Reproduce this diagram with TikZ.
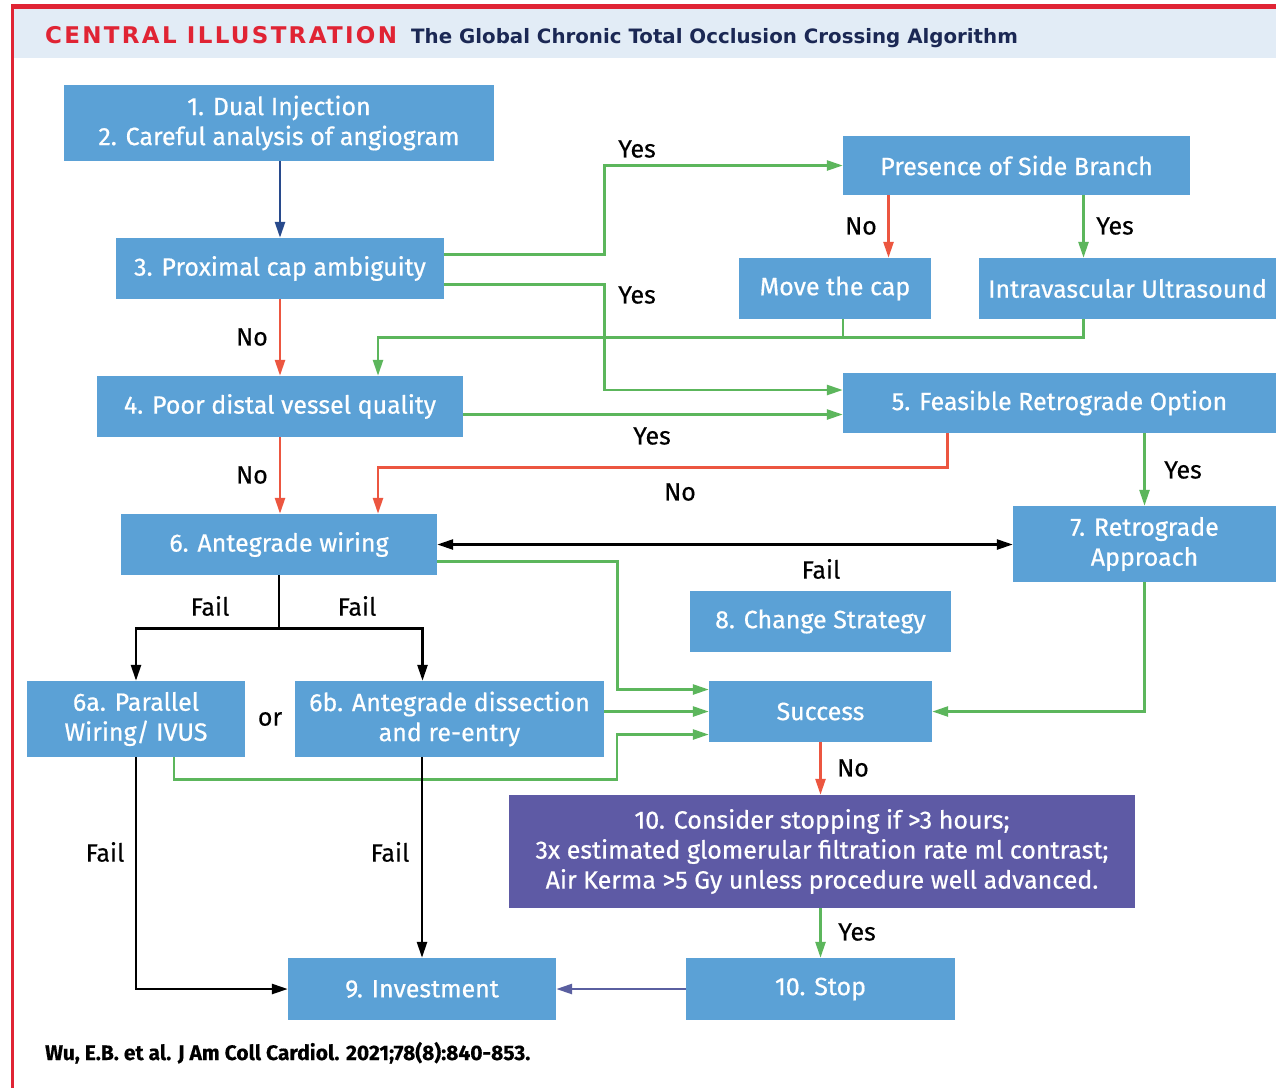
\documentclass[tikz,border=0pt]{standalone}
\usepackage{fontspec}
\usetikzlibrary{arrows.meta,calc}
\setmainfont{Fira Sans}
\newfontfamily\boxfont[FakeBold=0.6]{Fira Sans}
\newfontfamily\lblfont[FakeBold=0.4]{Fira Sans}
\newfontfamily\headfont[LetterSpace=10]{DejaVu Sans}
\newfontfamily\titlefont{DejaVu Sans}
\definecolor{boxblue}{RGB}{91,161,214}
\definecolor{boxpurple}{RGB}{94,90,165}
\definecolor{arrgreen}{RGB}{92,182,92}
\definecolor{arrred}{RGB}{236,86,64}
\definecolor{arrnavy}{RGB}{40,74,140}
\definecolor{arrpurple}{RGB}{90,95,160}
\definecolor{headband}{RGB}{226,236,246}
\definecolor{framered}{RGB}{224,36,52}
\definecolor{titlenavy}{RGB}{27,40,84}
\tikzset{
  bx/.style={fill=boxblue, text=white, inner sep=0pt, align=center,
    font=\boxfont\fontsize{25}{30}\selectfont},
  lbl/.style={text=black, inner sep=0pt, font=\lblfont\fontsize{25}{30}\selectfont},
  conn/.style={line width=2.6pt, -{Triangle[length=16pt,width=10pt]}},
  gr/.style={conn, draw=arrgreen},
  rd/.style={conn, draw=arrred},
  bk/.style={conn, draw=black},
  nv/.style={conn, draw=arrnavy},
  pu/.style={conn, draw=arrpurple},
}
\begin{document}
\begin{tikzpicture}[x=1pt,y=-1pt]
\useasboundingbox (0,0) rectangle (1276,1088);
\fill[white] (0,0) rectangle (1276,1088);
% frame and header
\fill[headband] (14,9) rectangle (1276,58);
\fill[framered] (11,4) rectangle (1276,8.5);
\fill[framered] (11,4) rectangle (14,1088);
\node[anchor=base west, inner sep=0pt, text=framered, font=\headfont\bfseries\fontsize{23}{26}\selectfont] (hd) at (45,43) {CENTRAL ILLUSTRATION};
\node[anchor=base west, inner sep=0pt, text=titlenavy, font=\titlefont\bfseries\fontsize{19.8}{26}\selectfont] (tt) at (411,43) {The Global Chronic Total Occlusion Crossing Algorithm};

% boxes
\node[bx, minimum width=430pt, minimum height=76pt] (b1) at (279,123) {1. Dual Injection\\2. Careful analysis of angiogram};
\node[bx, minimum width=328pt, minimum height=61pt] (b3) at (280,268.5) {3. Proximal cap ambiguity};
\node[bx, minimum width=366pt, minimum height=61pt] (b4) at (280,406.5) {4. Poor distal vessel quality};
\node[bx, minimum width=316pt, minimum height=61pt] (b6) at (279,544.5) {6. Antegrade wiring};
\node[bx, minimum width=218pt, minimum height=76pt] (b6a) at (136,719) {6a. Parallel\\Wiring/ IVUS};
\node[bx, minimum width=309pt, minimum height=76pt] (b6b) at (449.5,719) {6b. Antegrade dissection\\and re-entry};
\node[bx, minimum width=268pt, minimum height=62pt] (b9) at (422,989) {9. Investment};
\node[bx, minimum width=269pt, minimum height=62pt] (st) at (820.5,989) {10. Stop};
\node[bx, fill=boxpurple, minimum width=626pt, minimum height=113pt] (b10) at (822,851.5) {10. Consider stopping if >3 hours;\\3x estimated glomerular filtration rate ml contrast;\\Air Kerma >5 Gy unless procedure well advanced.};
\node[bx, minimum width=223pt, minimum height=61pt] (su) at (820.5,711.5) {Success};
\node[bx, minimum width=261pt, minimum height=61pt] (b8) at (820.5,621.5) {8. Change Strategy};
\node[bx, minimum width=263pt, minimum height=76pt] (b7) at (1144.5,544) {7. Retrograde\\Approach};
\node[bx, minimum width=433pt, minimum height=60pt] (b5) at (1059.5,403) {5. Feasible Retrograde Option};
\node[bx, minimum width=347pt, minimum height=59pt] (sb) at (1016.5,165.5) {Presence of Side Branch};
\node[bx, minimum width=192pt, minimum height=61pt] (mc) at (835,288.5) {Move the cap};
\node[bx, minimum width=297pt, minimum height=61pt] (iv) at (1127.5,288.5) {Intravascular Ultrasound};

% connectors
\draw[nv] (b1.south -| b3.north) -- (b3.north);
\draw[gr] ([yshift=14pt]b3.east) -- ++(160,0) |- (sb.west);
\draw[gr] ([yshift=-16pt]b3.east) -- ++(160,0) |- ([yshift=13pt]b5.west);
\draw[rd] (b3.south) -- (b3.south |- b4.north);
\draw[rd] ([xshift=-128pt]sb.south) -- ([xshift=-128pt]sb.south |- mc.north);
\draw[gr] ([xshift=67pt]sb.south) -- ([xshift=67pt]sb.south |- iv.north);
\draw[gr] ([xshift=-44pt]iv.south) -- ++(0,18) coordinate (jn) -| ([xshift=98pt]b4.north);
\draw[gr, -] ([xshift=8pt]mc.south) -- ([xshift=8pt]mc.south |- jn);
\draw[gr] ([yshift=-8pt]b4.east) -- ([yshift=-8pt]b4.east -| b5.west);
\draw[rd] (b4.south) -- (b4.south |- b6.north);
\draw[rd] ([xshift=-112pt]b5.south) -- ++(0,34) -| ([xshift=99pt]b6.north);
\draw[gr] (b5.south -| b7.north) -- (b7.north);
\draw[bk, {Triangle[length=16pt,width=10pt]}-{Triangle[length=16pt,width=10pt]}] (b6.east) -- (b6.east -| b7.west);
\draw[gr] ([yshift=-17pt]b6.east) -- ++(180,0) |- ([yshift=22pt]su.west);
\draw[bk, -] (b6.south) -- ++(0,53) coordinate (fk);
\draw[bk] (fk) -| (b6a.north);
\draw[bk] (fk) -| ([xshift=-27pt]b6b.north);
\draw[gr] (su.west -| b6b.east) -- (su.west);
\draw[gr] ([xshift=38pt]b6a.south) -- ++(0,22) -- ++(443,0) |- ([yshift=-23pt]su.west);
\draw[bk] (b6a.south) |- (b9.west);
\draw[bk] (b6b.south -| b9.north) -- (b9.north);
\draw[gr] (b7.south) |- (su.east);
\draw[rd] (su.south) -- (su.south |- b10.north);
\draw[gr] (su.south |- b10.south) -- (st.north);
\draw[pu] (st.west) -- (b9.east);

% labels
\node[lbl] (l1) at (637,149) {Yes};
\node[lbl] (l2) at (637,295) {Yes};
\node[lbl] (l3) at (252,337) {No};
\node[lbl] (l4) at (861,226) {No};
\node[lbl] (l5) at (1115,226) {Yes};
\node[lbl] (l6) at (652,436) {Yes};
\node[lbl] (l7) at (252,475) {No};
\node[lbl] (l8) at (680,492) {No};
\node[lbl] (l9) at (1183,470) {Yes};
\node[lbl] (l10) at (821,569) {Fail};
\node[lbl] (l11) at (210,606) {Fail};
\node[lbl] (l12) at (357,606) {Fail};
\node[lbl] (l13) at (270,719) {or};
\node[lbl] (l14) at (105,852) {Fail};
\node[lbl] (l15) at (390,852) {Fail};
\node[lbl] (l16) at (853,768) {No};
\node[lbl] (l17) at (857,932) {Yes};
\node[anchor=base west, inner sep=0pt, text=black, font=\lblfont\bfseries\fontsize{21}{24}\selectfont] (cite) at (45,1060) {Wu, E.B. et al. J Am Coll Cardiol. 2021;78(8):840-853.};
\end{tikzpicture}
\end{document}
